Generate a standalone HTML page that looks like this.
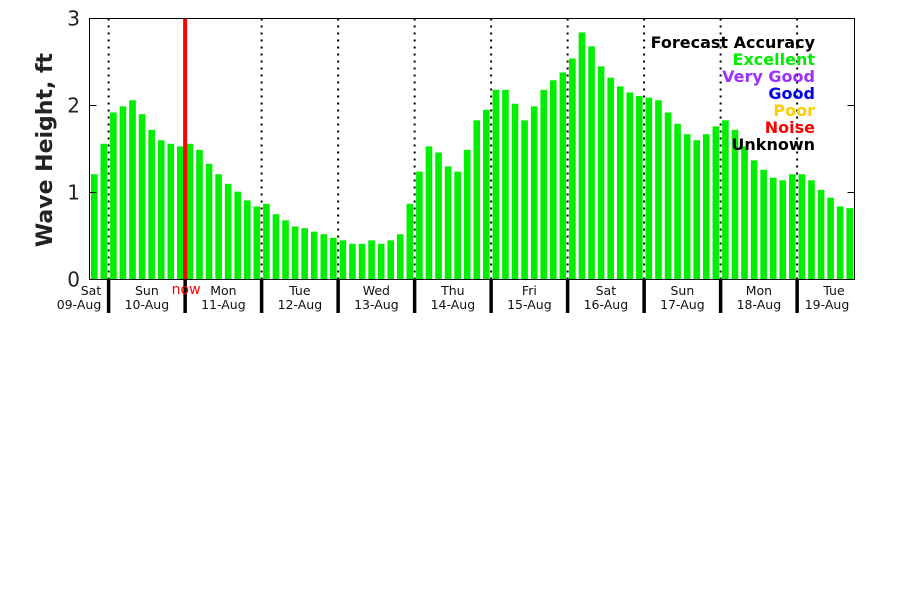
<!DOCTYPE html>
<html><head><meta charset="utf-8"><style>
body{margin:0;background:#fff;}
svg{display:block;font-family:"DejaVu Sans","Liberation Sans",sans-serif;}
</style></head><body>
<svg id="chart" width="900" height="600">
<rect x="0" y="0" width="900" height="600" fill="#fff"/>
<g id="bars"></g><g id="grid"></g><g id="labels"></g>
<rect x="89.5" y="18.5" width="765" height="261" fill="none" stroke="#000" stroke-width="1"/>
<text x="0" y="0" transform="translate(52,150) rotate(-90)" text-anchor="middle" font-size="22" font-weight="bold" fill="#222">Wave Height, ft</text>
<g font-size="16" font-weight="bold" text-anchor="end">
<text x="815" y="48" fill="#000">Forecast Accuracy</text>
<text x="815" y="65" fill="#00ee00">Excellent</text>
<text x="815" y="82" fill="#9b30ff">Very Good</text>
<text x="815" y="99" fill="#0000ee">Good</text>
<text x="815" y="116" fill="#ffcc00">Poor</text>
<text x="815" y="133" fill="#ff0000">Noise</text>
<text x="815" y="150" fill="#000">Unknown</text>
</g>
</svg>
<script>
const values=[1.21,1.56,1.92,1.99,2.06,1.90,1.72,1.60,1.56,1.53,1.56,1.49,1.33,1.21,1.10,1.01,0.91,0.84,0.87,0.75,0.68,0.61,0.59,0.55,0.52,0.48,0.45,0.41,0.41,0.45,0.41,0.45,0.52,0.87,1.24,1.53,1.46,1.30,1.24,1.49,1.83,1.95,2.18,2.18,2.02,1.83,1.99,2.18,2.29,2.38,2.54,2.84,2.68,2.45,2.32,2.22,2.15,2.11,2.09,2.06,1.92,1.79,1.67,1.60,1.67,1.76,1.83,1.72,1.53,1.37,1.26,1.17,1.14,1.21,1.21,1.14,1.03,0.94,0.84,0.82];
const dayNames=["Sat","Sun","Mon","Tue","Wed","Thu","Fri","Sat","Sun","Mon","Tue"];
const dayDates=["09-Aug","10-Aug","11-Aug","12-Aug","13-Aug","14-Aug","15-Aug","16-Aug","17-Aug","18-Aug","19-Aug"];
const yTicks=[0,1,2,3];
const nowIndex=10.0;
const NS="http://www.w3.org/2000/svg";
const x0=89.5,x1=854.5,yB=279.5,yT=18.5,n=values.length;
const step=(x1-x0)/n;
const xc=i=>x0+step*(i+0.5);
const ys=v=>yB-(v/3)*(yB-yT);
const barsG=document.getElementById('bars'),gridG=document.getElementById('grid'),lab=document.getElementById('labels');
function mk(tag,attrs,parent){const e=document.createElementNS(NS,tag);for(const k in attrs)e.setAttribute(k,attrs[k]);parent.appendChild(e);return e;}
values.forEach((v,i)=>{
 const r=mk('rect',{x:xc(i)-3.3,y:ys(v),width:6.6,height:yB-ys(v),fill:'#00ee00'},barsG);
 
 
});
// day boundaries (every 8 bars, offset by 2)
for(let d=0;d<dayNames.length;d++){
 const bi=2+8*(d-1);
 const bx=x0+step*bi;
 if(d>=1){
  const l=mk('line',{x1:bx,y1:yT,x2:bx,y2:yB,stroke:'#000','stroke-width':2,'stroke-dasharray':'2,5'},gridG);
  
  
  const t=mk('line',{x1:bx,y1:yB,x2:bx,y2:313,stroke:'#000','stroke-width':3.5},gridG);
  
  
 }
 let cx=bx+step*4;
 let c1=cx,c2=cx;
 if(d===0){c1=91;c2=79;}
 if(d===dayNames.length-1){c1=834;c2=827;}
 const a=mk('text',{x:c1,y:295,'font-size':12.5,'text-anchor':'middle',fill:'#111'},lab);
 a.textContent=dayNames[d];
 
 
 const b=mk('text',{x:c2,y:309,'font-size':12.5,'text-anchor':'middle',fill:'#111'},lab);
 b.textContent=dayDates[d];
 
 
}
yTicks.forEach(v=>{
 const y=ys(v);
 const a=mk('line',{x1:x0,y1:y,x2:x0+7,y2:y,stroke:'#000'},gridG);
 
 
 const b=mk('line',{x1:x1-7,y1:y,x2:x1,y2:y,stroke:'#000'},gridG);
 
 
 const t=mk('text',{x:80,y:y+7,'font-size':20,'text-anchor':'end',fill:'#222'},lab);
 t.textContent=v;
 
 
});
const nx=x0+step*nowIndex;
const nl=mk('line',{x1:nx,y1:yT,x2:nx,y2:yB,stroke:'#ff0000','stroke-width':4},gridG);


const nt=mk('text',{x:nx+1,y:294,'font-size':14,'text-anchor':'middle',fill:'#ff0000'},lab);
nt.textContent='now';


</script>
</body></html>
